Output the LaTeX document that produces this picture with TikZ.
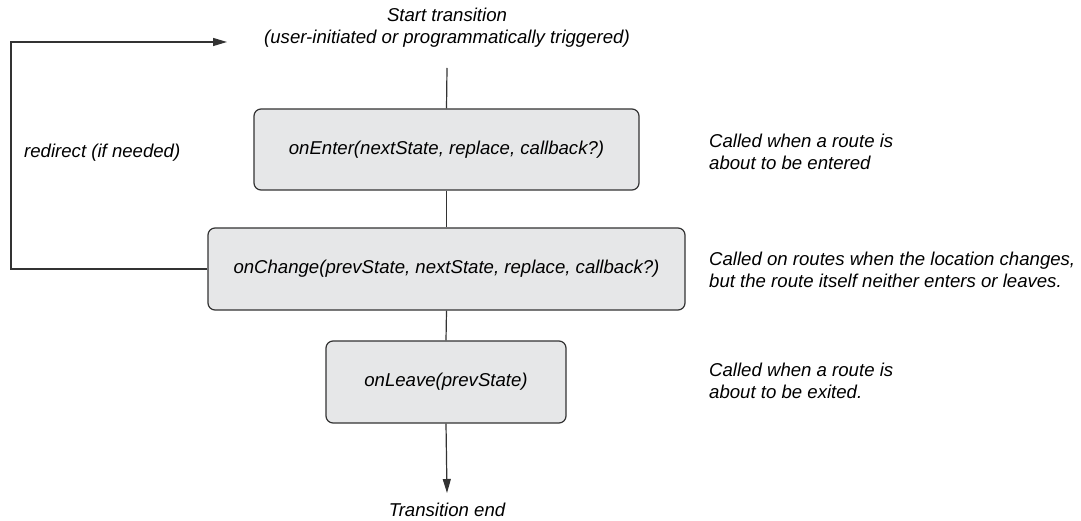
\documentclass[tikz,border=0pt]{standalone}
\usepackage{fontspec}
\setmainfont{Liberation Sans}
\usetikzlibrary{arrows.meta}
\definecolor{boxfill}{HTML}{E6E7E8}
\definecolor{linec}{HTML}{333333}
\tikzset{
  fnbox/.style={draw=linec, line width=1.2pt, fill=boxfill, rounded corners=7pt, inner sep=0pt},
  lbl/.style={font=\itshape\fontsize{18.6}{22}\selectfont, text=black, inner sep=0pt},
  conn/.style={draw=linec, line width=1.2pt},
  tip/.style={-{Triangle[length=14pt,width=8pt]}}
}
\begin{document}
\begin{tikzpicture}[x=1pt,y=-1pt]
\useasboundingbox (0,0) rectangle (1081,521);
\node[lbl, align=center] (start) at (447,28) {Start transition\\(user-initiated or programmatically triggered)};
\coordinate (startb) at (447,68);
\node[fnbox, minimum width=385pt, minimum height=81pt] (enter) at (446.5,149.5) {};
\node[lbl] at (enter.center) {onEnter(nextState, replace, callback?)};
\node[fnbox, minimum width=477pt, minimum height=82pt] (change) at (446.5,269) {};
\node[lbl] at (change.center) {onChange(prevState, nextState, replace, callback?)};
\node[fnbox, minimum width=240pt, minimum height=82pt] (leave) at (446,382) {};
\node[lbl] at (leave.center) {onLeave(prevState)};
\node[lbl] (end) at (447,510) {Transition end};
\coordinate (endtip) at (447,493);
\node[lbl, anchor=west] (redir) at (24,153) {redirect (if needed)};
\node[lbl, anchor=west, align=left] (d1) at (709,151.5) {Called when a route is\\about to be entered};
\node[lbl, anchor=west, align=left] (d2) at (709,270) {Called on routes when the location changes,\\but the route itself neither enters or leaves.};
\node[lbl, anchor=west, align=left] (d3) at (709,381) {Called when a route is\\about to be exited.};
\coordinate (ltop) at (11,42);
\coordinate (lbot) at (11,269);
\coordinate (ltip) at (227,42);
\draw[conn] (startb) -- (enter.north);
\draw[conn] (enter.south) -- (change.north);
\draw[conn] (change.south) -- (leave.north);
\draw[conn, tip] (leave.south) -- (endtip);
\draw[conn, tip] (change.west) -- (lbot) -- (ltop) -- (ltip);
\end{tikzpicture}
\end{document}
